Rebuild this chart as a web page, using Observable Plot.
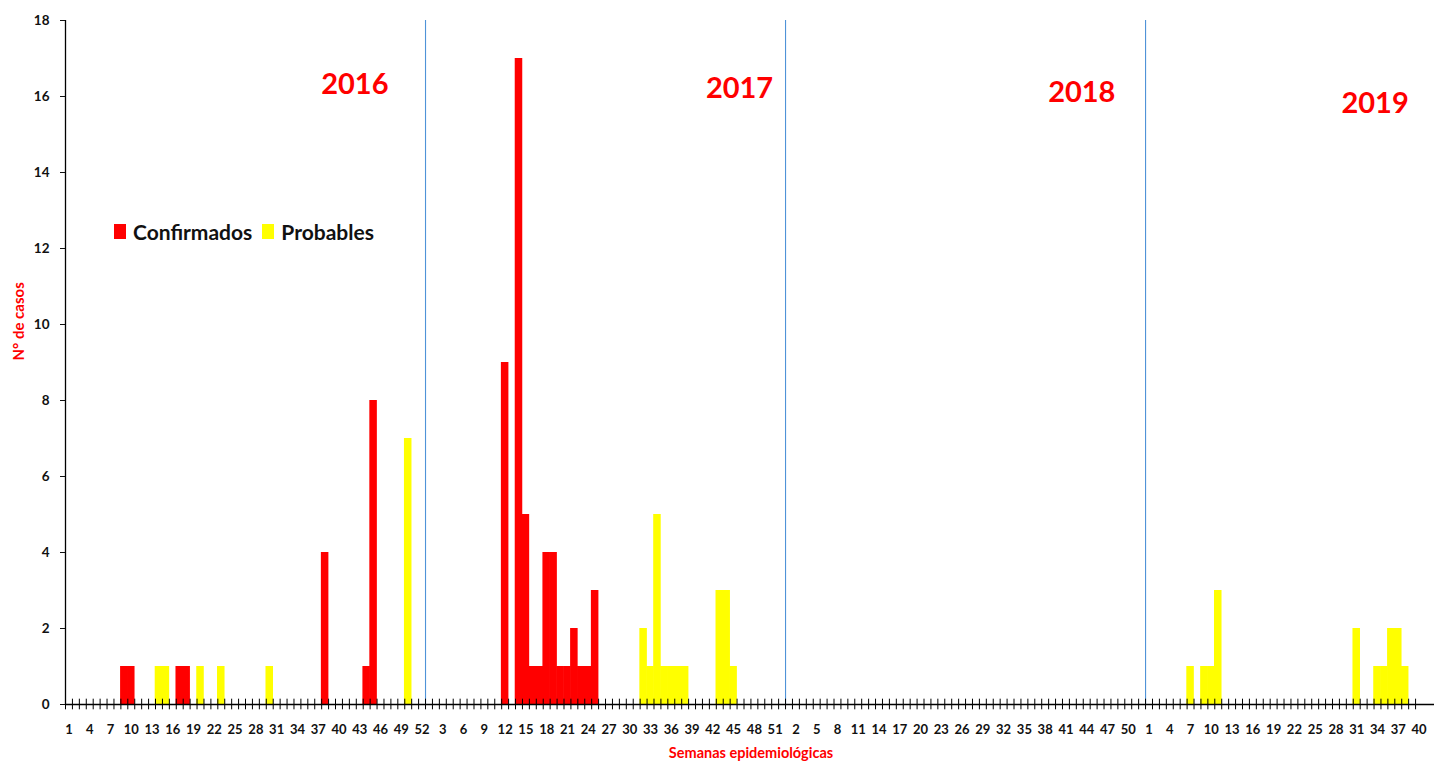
<!DOCTYPE html>
<html>
<head>
<meta charset="utf-8">
<script src="https://cdn.jsdelivr.net/npm/d3@7"></script>
<script src="https://cdn.jsdelivr.net/npm/@observablehq/plot@0.6"></script>
<style>
  html, body { margin: 0; padding: 0; background: #ffffff; }
  #wrap { position: relative; width: 1434px; height: 771px; font-family: Lato, "Open Sans", sans-serif; }
  #legend { position: absolute; left: 114px; top: 219px; display: flex; align-items: center; font-weight: bold; font-size: 21px; color: #111; }
  #legend .sw { display: inline-block; width: 12px; height: 15px; margin-right: 7px; }
  #legend .item { display: flex; align-items: center; margin-right: 10px; }
</style>
</head>
<body>
<div id="wrap">
  <div id="chart"></div>
  <div id="legend"></div>
</div>
<script>
// ---- Data ----
const years = ["2016", "2017", "2018", "2019"];
const weeksPerYear = [52, 52, 52, 40];
const series = ["Confirmados", "Probables"];
const seriesColors = ["#ff0000", "#ffff00"];
const yTicks = [0, 2, 4, 6, 8, 10, 12, 14, 16, 18];

// [año, semana epidemiológica, n° de casos]
const confirmados = [
  ["2016", 9, 1], ["2016", 10, 1], ["2016", 17, 1], ["2016", 18, 1],
  ["2016", 38, 4], ["2016", 44, 1], ["2016", 45, 8],
  ["2017", 12, 9], ["2017", 14, 17], ["2017", 15, 5], ["2017", 16, 1],
  ["2017", 17, 1], ["2017", 18, 4], ["2017", 19, 4], ["2017", 20, 1],
  ["2017", 21, 1], ["2017", 22, 2], ["2017", 23, 1], ["2017", 24, 1],
  ["2017", 25, 3]
];
const probables = [
  ["2016", 14, 1], ["2016", 15, 1], ["2016", 20, 1], ["2016", 23, 1],
  ["2016", 30, 1], ["2016", 50, 7],
  ["2017", 32, 2], ["2017", 33, 1], ["2017", 34, 5], ["2017", 35, 1],
  ["2017", 36, 1], ["2017", 37, 1], ["2017", 38, 1], ["2017", 43, 3],
  ["2017", 44, 3], ["2017", 45, 1],
  ["2019", 7, 1], ["2019", 9, 1], ["2019", 10, 1], ["2019", 11, 3],
  ["2019", 31, 2], ["2019", 34, 1], ["2019", 35, 1], ["2019", 36, 2],
  ["2019", 37, 2], ["2019", 38, 1]
];

// ---- Build tables ----
const key = (y, w) => `${y}-${w}`;
const categories = years.flatMap((y, i) => d3.range(1, weeksPerYear[i] + 1).map(w => key(y, w)));
const rows = [
  ...confirmados.map(([y, w, c]) => ({key: key(y, w), casos: c, tipo: series[0]})),
  ...probables.map(([y, w, c]) => ({key: key(y, w), casos: c, tipo: series[1]}))
];
const yearStarts = years.slice(1).map(y => key(y, 1));
const labeled = categories.filter((d, i) => i % 3 === 0);

// layout
const W = 1434, H = 771, mL = 65, mR = 12, mT = 20, mB = 67;
const bw = (W - mL - mR) / categories.length;

// year annotation anchors (week key, y value, horizontal nudge)
const yearAnnot = [
  {text: years[0], at: key("2016", 42), v: 16.3, nudge: 2},
  {text: years[1], at: key("2017", 46), v: 16.2, nudge: -1},
  {text: years[2], at: key("2018", 43), v: 16.1, nudge: 2},
  {text: years[3], at: key("2019", 33), v: 15.8, nudge: 4.5}
];

const red = "#ff0000";
const chart = Plot.plot({
  width: W, height: H,
  marginLeft: mL, marginRight: mR, marginTop: mT, marginBottom: mB,
  style: {fontFamily: "Lato, 'Open Sans', sans-serif", fontWeight: "bold", fontSize: "13px", color: "#111", background: "transparent", overflow: "visible"},
  x: {domain: categories, padding: 0, axis: null},
  y: {domain: [0, 18], axis: null},
  color: {domain: series, range: seriesColors},
  marks: [
    Plot.barY(rows, {x: "key", y: "casos", fill: "tipo", insetLeft: -0.3, insetRight: -0.3}),
    Plot.ruleX(yearStarts, {x: d => d, y1: 0, y2: 18, dx: -bw / 2, stroke: "#4f93d8", strokeWidth: 1.1}),
    Plot.ruleY([0], {stroke: "#000", strokeWidth: 1.3, insetRight: -mR}),
    Plot.ruleX(categories, {x: d => d, y1: -0.14, y2: 0.14, dx: -bw / 2, stroke: "#000"}),
    Plot.ruleX([categories[0]], {x: d => d, y1: 0, y2: 18, dx: -bw / 2, stroke: "#000", strokeWidth: 1.3}),
    Plot.tickY(yTicks, {y: d => d, x: categories[0], dx: -bw / 2, insetRight: 3.5, stroke: "#000"}),
    Plot.axisX({ticks: labeled, tickFormat: d => d.split("-")[1], tickSize: 0, tickPadding: 20, fontSize: 13, fontWeight: "bold"}),
    Plot.axisY({ticks: yTicks, tickSize: 5, tickPadding: 11, fontSize: 13.5, fontWeight: "bold"}),
    ...yearAnnot.map(a => Plot.text([a], {x: "at", y: "v", text: "text", dx: a.nudge, fill: red, fontSize: 29, fontWeight: "bold"})),
    Plot.text(["N° de casos"], {frameAnchor: "left", rotate: -90, dx: -46, dy: -2, fill: red, fontSize: 15, fontWeight: "bold"}),
    Plot.text(["Semanas epidemiológicas"], {frameAnchor: "bottom", dy: 53, dx: 7, fill: red, fontSize: 14.5, fontWeight: "bold"})
  ]
});
document.getElementById("chart").appendChild(chart);

// legend
const legend = d3.select("#legend");
series.forEach((s, i) => {
  const it = legend.append("div").attr("class", "item");
  it.append("span").attr("class", "sw").style("background", seriesColors[i]);
  it.append("span").text(s);
});
</script>
</body>
</html>
